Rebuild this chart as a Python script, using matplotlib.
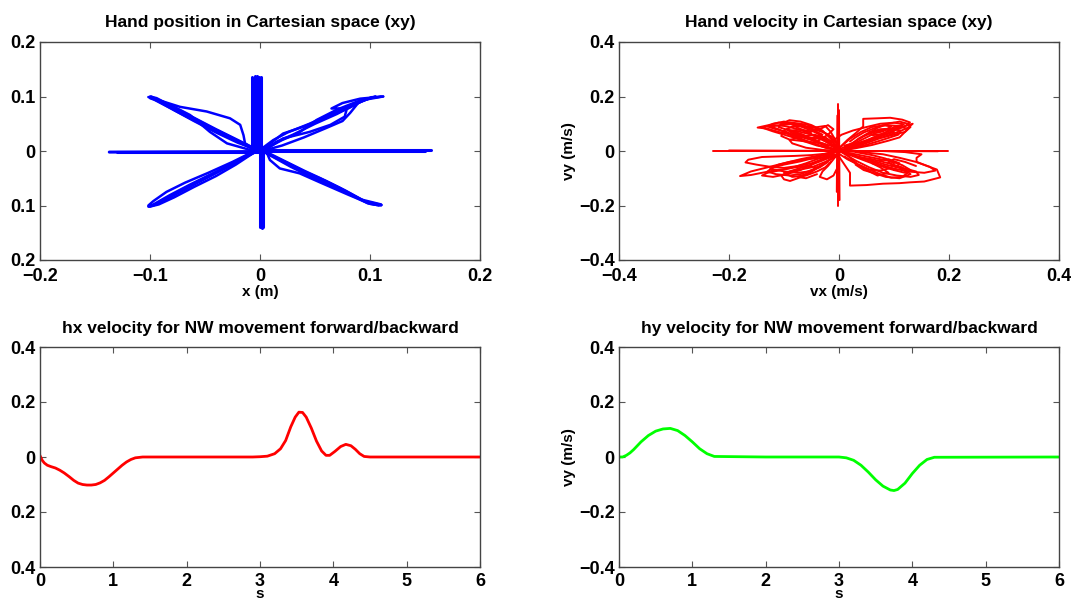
import matplotlib
matplotlib.use("Agg")
import matplotlib.pyplot as plt

plt.rcParams["font.family"] = ["Liberation Sans", "DejaVu Sans"]
plt.rcParams["font.weight"] = "bold"

# --- hand position paths (x, y) in m, one list per reach direction ---
pos_north = [
    [(-0.007, 0.0), (-0.007, 0.136)],
    [(-0.005, 0.0), (-0.005, 0.137)],
    [(-0.003, 0.0), (-0.003, 0.137)],
    [(-0.001, 0.0), (-0.001, 0.136)],
    [(0.001, 0.0), (0.001, 0.135)],
]
pos_south = [
    [(0.0, 0.0), (0.0, -0.139)],
    [(0.002, 0.0), (0.002, -0.141)],
    [(0.003, 0.0), (0.003, -0.140)],
]
pos_east = [
    [(0.0, 0.001), (0.155, 0.001)],
    [(0.0, 0.0), (0.150, 0.0)],
]
pos_west = [
    [(0.0, -0.001), (-0.137, -0.002)],
    [(0.0, -0.002), (-0.130, -0.002)],
]
pos_nw = [
    [(-0.003, 0.0), (-0.02, 0.017), (-0.04, 0.037), (-0.06, 0.058), (-0.08, 0.079), (-0.095, 0.095), (-0.1015, 0.099)],
    [(-0.002, 0.002), (-0.02, 0.02), (-0.04, 0.04), (-0.06, 0.061), (-0.08, 0.082), (-0.094, 0.097), (-0.1, 0.1)],
    [(-0.001, 0.001), (-0.02, 0.015), (-0.04, 0.034), (-0.06, 0.055), (-0.08, 0.077), (-0.096, 0.094), (-0.1, 0.097)],
    [(-0.004, 0.002), (-0.022, 0.021), (-0.042, 0.041), (-0.062, 0.062), (-0.082, 0.083), (-0.097, 0.098), (-0.099, 0.1)],
    [(0.0, 0.0), (-0.018, 0.016), (-0.038, 0.035), (-0.058, 0.054), (-0.078, 0.075), (-0.093, 0.092), (-0.1, 0.098)],
    [(-0.003, 0.0), (-0.0136, 0.014), (-0.015, 0.029), (-0.018, 0.048), (-0.0273, 0.06), (-0.0485, 0.0725),
     (-0.0727, 0.081), (-0.09, 0.092), (-0.1, 0.099)],
    [(-0.003, 0.0), (-0.009, 0.002), (-0.03, 0.014), (-0.0455, 0.035), (-0.0636, 0.066), (-0.08, 0.083), (-0.095, 0.096)],
]
pos_ne = [
    [(0.002, 0.0), (0.01, 0.015), (0.021, 0.032), (0.04, 0.045), (0.06, 0.062), (0.08, 0.078), (0.095, 0.094), (0.112, 0.1)],
    [(0.0, 0.002), (0.012, 0.02), (0.025, 0.034), (0.045, 0.05), (0.065, 0.068), (0.085, 0.085), (0.1, 0.097), (0.11, 0.1)],
    [(0.003, 0.001), (0.015, 0.017), (0.03, 0.03), (0.05, 0.05), (0.07, 0.068), (0.088, 0.087), (0.102, 0.099)],
    [(0.001, 0.0), (0.02, 0.02), (0.035, 0.033), (0.0515, 0.057), (0.07, 0.076), (0.09, 0.092), (0.105, 0.1)],
    [(0.003, 0.0), (0.021, 0.023), (0.045, 0.035), (0.064, 0.048), (0.077, 0.063), (0.079, 0.078),
     (0.065, 0.078), (0.075, 0.088), (0.091, 0.096), (0.112, 0.1)],
    [(0.002, 0.0), (0.02, 0.01), (0.04, 0.025), (0.06, 0.042), (0.075, 0.055), (0.082, 0.07), (0.09, 0.09), (0.105, 0.1)],
]
pos_se = [
    [(0.006, -0.004), (0.027, -0.026), (0.045, -0.044), (0.0576, -0.056), (0.075, -0.072), (0.095, -0.092), (0.1106, -0.099)],
    [(0.004, -0.002), (0.025, -0.022), (0.043, -0.04), (0.06, -0.055), (0.078, -0.073), (0.097, -0.094), (0.108, -0.1)],
    [(0.002, 0.0), (0.028, -0.029), (0.047, -0.048), (0.062, -0.061), (0.08, -0.078), (0.098, -0.096), (0.106, -0.099)],
    [(0.005, -0.001), (0.024, -0.02), (0.04, -0.036), (0.055, -0.05), (0.073, -0.068), (0.092, -0.089), (0.11, -0.098)],
    [(0.006, -0.002), (0.009, -0.0165), (0.018, -0.032), (0.036, -0.041), (0.055, -0.058), (0.08, -0.08), (0.1, -0.097), (0.11, -0.1)],
]
pos_sw = [
    [(-0.006, -0.001), (-0.025, -0.024), (-0.045, -0.045), (-0.0636, -0.0655), (-0.08, -0.083), (-0.095, -0.098), (-0.1015, -0.102)],
    [(-0.004, -0.002), (-0.024, -0.022), (-0.044, -0.042), (-0.064, -0.062), (-0.082, -0.081), (-0.096, -0.097), (-0.1, -0.101)],
    [(-0.003, 0.0), (-0.026, -0.026), (-0.046, -0.047), (-0.066, -0.067), (-0.083, -0.085), (-0.097, -0.1), (-0.101, -0.102)],
    [(-0.005, 0.0), (-0.025, -0.02), (-0.047, -0.04), (-0.068, -0.058), (-0.085, -0.075), (-0.097, -0.092), (-0.1015, -0.1)],
    [(-0.004, -0.001), (-0.022, -0.025), (-0.04, -0.046), (-0.06, -0.066), (-0.078, -0.085), (-0.092, -0.098), (-0.1, -0.102)],
]

# --- hand velocity paths (vx, vy) in m/s ---
vel_axes = [
    [(-0.229, 0.0), (0.198, 0.0)],
    [(-0.2, 0.002), (0.18, -0.001)],
    [(-0.002, -0.2), (-0.002, 0.171)],
    [(0.001, -0.18), (0.0, 0.15)],
    [(-0.004, -0.15), (-0.003, 0.13)],
]
vel_upper_left = [
    [(0, 0.01), (-0.02, 0.035), (-0.035, 0.06), (-0.05, 0.075), (-0.07, 0.09), (-0.09, 0.1), (-0.11, 0.104),
     (-0.13, 0.094), (-0.148, 0.086), (-0.13, 0.082), (-0.11, 0.07), (-0.08, 0.058), (-0.05, 0.04), (-0.02, 0.015), (0, 0)],
    [(0, 0.005), (-0.015, 0.045), (-0.03, 0.075), (-0.05, 0.095), (-0.07, 0.108), (-0.09, 0.113), (-0.105, 0.1),
     (-0.11, 0.088), (-0.09, 0.075), (-0.07, 0.07), (-0.05, 0.06), (-0.035, 0.05), (-0.02, 0.03), (0, 0)],
    [(0, 0), (-0.025, 0.012), (-0.05, 0.03), (-0.075, 0.045), (-0.1, 0.06), (-0.12, 0.072), (-0.14, 0.086),
     (-0.12, 0.095), (-0.1, 0.092), (-0.08, 0.083), (-0.06, 0.07), (-0.04, 0.05), (-0.02, 0.03), (0, 0.01)],
    [(0, 0.01), (-0.03, 0.028), (-0.06, 0.035), (-0.09, 0.042), (-0.105, 0.055), (-0.1, 0.075), (-0.085, 0.09),
     (-0.065, 0.092), (-0.045, 0.086), (-0.025, 0.092), (-0.015, 0.07), (-0.008, 0.045), (0, 0)],
    [(0, 0), (-0.03, 0.004), (-0.06, 0.012), (-0.085, 0.028), (-0.09, 0.04), (-0.07, 0.052), (-0.045, 0.06),
     (-0.025, 0.05), (-0.01, 0.03), (0, 0)],
    [(0, 0.02), (-0.01, 0.05), (-0.03, 0.07), (-0.055, 0.085), (-0.08, 0.1), (-0.1, 0.108), (-0.12, 0.1),
     (-0.13, 0.09), (-0.115, 0.08), (-0.095, 0.07), (-0.075, 0.05), (-0.05, 0.03), (-0.02, 0.01)],
    [(0, 0.005), (-0.04, 0.02), (-0.07, 0.04), (-0.095, 0.065), (-0.11, 0.08), (-0.125, 0.09), (-0.105, 0.095),
     (-0.08, 0.1), (-0.06, 0.098), (-0.04, 0.082), (-0.02, 0.06), (-0.005, 0.03)],
    [(-0.02, 0.02), (-0.045, 0.04), (-0.065, 0.06), (-0.08, 0.07), (-0.095, 0.08), (-0.085, 0.065), (-0.06, 0.05),
     (-0.04, 0.045), (-0.03, 0.06), (-0.05, 0.08), (-0.07, 0.1), (-0.09, 0.105), (-0.075, 0.085), (-0.05, 0.065)],
    [(-0.01, 0.03), (-0.03, 0.045), (-0.055, 0.05), (-0.075, 0.062), (-0.09, 0.075), (-0.07, 0.078), (-0.05, 0.072),
     (-0.035, 0.08), (-0.02, 0.095), (-0.01, 0.08), (-0.02, 0.06), (-0.04, 0.035), (-0.025, 0.02)],
]
vel_upper_right = [
    [(0, 0), (0.02, 0.015), (0.04, 0.03), (0.06, 0.048), (0.08, 0.065), (0.1, 0.08), (0.12, 0.092), (0.134, 0.1),
     (0.125, 0.085), (0.11, 0.072), (0.09, 0.058), (0.065, 0.04), (0.04, 0.022), (0.015, 0.006), (0, 0)],
    [(0, 0.01), (0.015, 0.04), (0.03, 0.065), (0.044, 0.09), (0.044, 0.118), (0.07, 0.12), (0.093, 0.122),
     (0.115, 0.115), (0.129, 0.105), (0.12, 0.09), (0.1, 0.075), (0.075, 0.055), (0.05, 0.035), (0.02, 0.01)],
    [(0, 0), (0.03, 0.01), (0.06, 0.022), (0.09, 0.038), (0.11, 0.05), (0.117, 0.064), (0.125, 0.08),
     (0.11, 0.092), (0.085, 0.095), (0.06, 0.088), (0.04, 0.07), (0.02, 0.045), (0, 0.01)],
    [(0.01, 0), (0.02, 0.02), (0.035, 0.045), (0.055, 0.068), (0.075, 0.08), (0.095, 0.082), (0.112, 0.075),
     (0.108, 0.06), (0.09, 0.048), (0.07, 0.035), (0.045, 0.02), (0.02, 0.008)],
    [(0, 0.02), (-0.01, 0.04), (0.005, 0.06), (0.025, 0.075), (0.05, 0.088), (0.075, 0.1), (0.1, 0.104),
     (0.118, 0.098), (0.105, 0.085), (0.085, 0.078), (0.065, 0.07), (0.045, 0.055)],
    [(0, 0.005), (0.025, 0.03), (0.05, 0.06), (0.07, 0.085), (0.09, 0.1), (0.11, 0.108), (0.125, 0.1),
     (0.13, 0.088), (0.12, 0.07), (0.1, 0.06), (0.08, 0.05), (0.06, 0.045), (0.035, 0.03), (0.01, 0.01)],
    [(0.03, 0.02), (0.05, 0.035), (0.07, 0.05), (0.085, 0.06), (0.1, 0.07), (0.09, 0.08), (0.07, 0.075),
     (0.055, 0.07), (0.06, 0.058), (0.08, 0.062), (0.1, 0.088), (0.115, 0.095)],
    [(0.01, 0.02), (0.03, 0.03), (0.05, 0.05), (0.065, 0.065), (0.08, 0.072), (0.095, 0.09), (0.08, 0.095),
     (0.06, 0.08), (0.045, 0.068), (0.03, 0.05), (0.02, 0.035)],
]
vel_lower_left = [
    [(0, 0), (-0.02, -0.015), (-0.04, -0.03), (-0.06, -0.045), (-0.08, -0.058), (-0.1, -0.067), (-0.12, -0.072),
     (-0.14, -0.08), (-0.16, -0.088), (-0.18, -0.092), (-0.16, -0.075), (-0.13, -0.06), (-0.1, -0.045),
     (-0.07, -0.03), (-0.04, -0.018), (-0.015, -0.005), (0, 0)],
    [(0, -0.01), (-0.015, -0.03), (-0.03, -0.05), (-0.045, -0.07), (-0.06, -0.088), (-0.075, -0.1),
     (-0.089, -0.11), (-0.1, -0.104), (-0.105, -0.09), (-0.09, -0.075), (-0.07, -0.062), (-0.05, -0.05),
     (-0.03, -0.035), (-0.012, -0.02), (0, -0.01)],
    [(0, 0), (-0.025, -0.01), (-0.05, -0.015), (-0.08, -0.018), (-0.11, -0.02), (-0.14, -0.022), (-0.165, -0.032),
     (-0.17, -0.042), (-0.15, -0.05), (-0.125, -0.058), (-0.1, -0.062), (-0.075, -0.055), (-0.05, -0.045),
     (-0.03, -0.03), (-0.01, -0.015)],
    [(0, -0.005), (-0.01, -0.03), (-0.02, -0.055), (-0.03, -0.075), (-0.035, -0.095), (-0.022, -0.104),
     (-0.01, -0.09), (-0.005, -0.07), (0, -0.05)],
    [(0, 0), (-0.035, -0.02), (-0.07, -0.038), (-0.1, -0.05), (-0.12, -0.06), (-0.13, -0.075), (-0.115, -0.085),
     (-0.09, -0.09), (-0.07, -0.085), (-0.05, -0.07), (-0.03, -0.05), (-0.015, -0.03)],
    [(-0.01, -0.01), (-0.04, -0.04), (-0.07, -0.07), (-0.095, -0.085), (-0.12, -0.095), (-0.14, -0.09),
     (-0.13, -0.08), (-0.105, -0.07), (-0.08, -0.06), (-0.06, -0.055), (-0.04, -0.06), (-0.055, -0.08),
     (-0.075, -0.095), (-0.06, -0.1), (-0.04, -0.085)],
    [(0, -0.01), (-0.03, -0.025), (-0.06, -0.03), (-0.09, -0.04), (-0.11, -0.05), (-0.125, -0.065),
     (-0.1, -0.075), (-0.075, -0.08), (-0.055, -0.075), (-0.035, -0.06), (-0.02, -0.04)],
    [(-0.005, -0.02), (-0.025, -0.04), (-0.05, -0.06), (-0.075, -0.07), (-0.1, -0.08), (-0.085, -0.095),
     (-0.06, -0.09), (-0.04, -0.075), (-0.025, -0.06), (-0.015, -0.04)],
]
vel_lower_right = [
    [(0, 0), (0.02, -0.015), (0.04, -0.03), (0.06, -0.045), (0.08, -0.058), (0.1, -0.07), (0.12, -0.08),
     (0.13, -0.07), (0.115, -0.052), (0.095, -0.038), (0.07, -0.028), (0.045, -0.018), (0.02, -0.008), (0, 0)],
    [(0, -0.01), (0.015, -0.03), (0.035, -0.05), (0.055, -0.068), (0.075, -0.085), (0.095, -0.098),
     (0.115, -0.095), (0.125, -0.08), (0.11, -0.062), (0.085, -0.05), (0.06, -0.035), (0.03, -0.018), (0, 0)],
    [(0, -0.02), (0.01, -0.05), (0.02, -0.08), (0.02, -0.11), (0.02, -0.127), (0.05, -0.125), (0.08, -0.12),
     (0.11, -0.118), (0.129, -0.115), (0.155, -0.112), (0.184, -0.097), (0.178, -0.068), (0.16, -0.055),
     (0.141, -0.04), (0.141, -0.025), (0.15, -0.012), (0.12, -0.004), (0.08, 0.0)],
    [(0, 0), (0.04, -0.004), (0.08, -0.012), (0.11, -0.025), (0.14, -0.04), (0.165, -0.058), (0.175, -0.072),
     (0.155, -0.08), (0.13, -0.076), (0.1, -0.065), (0.075, -0.05), (0.05, -0.032), (0.025, -0.015)],
    [(0.01, 0), (0.02, -0.025), (0.035, -0.05), (0.055, -0.068), (0.075, -0.072), (0.095, -0.062),
     (0.1, -0.045), (0.085, -0.028), (0.06, -0.015), (0.03, -0.004)],
    [(0.005, -0.005), (0.03, -0.035), (0.055, -0.06), (0.08, -0.08), (0.105, -0.09), (0.13, -0.095),
     (0.145, -0.088), (0.14, -0.075), (0.12, -0.065), (0.1, -0.055), (0.09, -0.04), (0.1, -0.03),
     (0.12, -0.04), (0.14, -0.055)],
    [(0.03, -0.02), (0.06, -0.03), (0.09, -0.045), (0.115, -0.06), (0.13, -0.085), (0.11, -0.1),
     (0.085, -0.095), (0.065, -0.082), (0.045, -0.07), (0.03, -0.05)],
    [(0.01, -0.02), (0.03, -0.045), (0.05, -0.07), (0.07, -0.09), (0.09, -0.08), (0.075, -0.06), (0.06, -0.045),
     (0.07, -0.035), (0.09, -0.03), (0.11, -0.045), (0.1, -0.07)],
]

# --- NW movement velocity time courses ---
hx_t = [0, 0.03, 0.06, 0.1, 0.15, 0.21, 0.27, 0.33, 0.4, 0.46, 0.52, 0.58, 0.64, 0.7, 0.76, 0.82, 0.88,
        0.94, 1.0, 1.06, 1.12, 1.18, 1.24, 1.3, 1.4, 2.0, 2.9, 3.0, 3.1, 3.2, 3.28, 3.35, 3.42, 3.48,
        3.53, 3.58, 3.63, 3.7, 3.77, 3.84, 3.9, 3.95, 4.02, 4.1, 4.17, 4.24, 4.3, 4.36, 4.42, 4.5, 6.0]
hx_v = [0.005, -0.012, -0.022, -0.03, -0.035, -0.04, -0.048, -0.058, -0.072, -0.085, -0.095, -0.1, -0.102,
        -0.102, -0.1, -0.094, -0.085, -0.072, -0.058, -0.044, -0.03, -0.018, -0.009, -0.003, 0.0, 0.0, 0.0,
        0.001, 0.003, 0.012, 0.03, 0.06, 0.11, 0.145, 0.163, 0.162, 0.145, 0.105, 0.058, 0.022, 0.006,
        0.006, 0.02, 0.038, 0.046, 0.041, 0.028, 0.012, 0.002, 0.0, 0.0]
hy_t = [0, 0.05, 0.1, 0.15, 0.2, 0.3, 0.4, 0.5, 0.6, 0.7, 0.8, 0.9, 1.0, 1.1, 1.2, 1.3, 2.0, 3.0,
        3.1, 3.2, 3.3, 3.4, 3.5, 3.6, 3.7, 3.75, 3.8, 3.9, 4.0, 4.1, 4.2, 4.3, 6.0]
hy_v = [0.0, 0.0, 0.006, 0.015, 0.027, 0.055, 0.078, 0.094, 0.102, 0.104, 0.096, 0.078, 0.055, 0.03,
        0.012, 0.002, 0.0, 0.0, -0.003, -0.012, -0.03, -0.055, -0.083, -0.106, -0.12, -0.122, -0.118,
        -0.095, -0.06, -0.03, -0.009, -0.001, 0.0]

# tick labels as printed on the figure
pos_xticks = [-0.2, -0.1, 0, 0.1, 0.2]
pos_xlabels = ["\u22120.2", "\u22120.1", "0", "0.1", "0.2"]
pos_yticks = [-0.2, -0.1, 0, 0.1, 0.2]
pos_ylabels = ["0.2", "0.1", "0", "0.1", "0.2"]
vel_ticks = [-0.4, -0.2, 0, 0.2, 0.4]
vel_labels = ["\u22120.4", "\u22120.2", "0", "0.2", "0.4"]
hx_ylabels = ["0.4", "0.2", "0", "0.2", "0.4"]
time_ticks = [0, 1, 2, 3, 4, 5, 6]


def style_axes(ax, xpad=6):
    ax.tick_params(direction="in", top=True, right=True, length=4, width=0.8,
                   labelsize=13, color="#555555")
    ax.tick_params(axis="x", pad=xpad)
    ax.tick_params(axis="y", pad=3)
    for lbl in ax.get_xticklabels() + ax.get_yticklabels():
        lbl.set_fontweight("bold")
    for sp in ax.spines.values():
        sp.set_color("#444444")
        sp.set_linewidth(1.0)


def draw_paths(ax, paths, color, lw):
    for p in paths:
        xs = [pt[0] for pt in p]
        ys = [pt[1] for pt in p]
        ax.plot(xs, ys, color=color, linewidth=lw, solid_joinstyle="round", solid_capstyle="round")


fig = plt.figure(figsize=(10.71, 6.03), dpi=100)
W, H = 1071.0, 603.0
ax1 = fig.add_axes([40 / W, 1 - 260 / H, 440 / W, 218 / H])
ax2 = fig.add_axes([619 / W, 1 - 260 / H, 440 / W, 218 / H])
ax3 = fig.add_axes([40 / W, 1 - 567 / H, 440 / W, 220 / H])
ax4 = fig.add_axes([619 / W, 1 - 567 / H, 440 / W, 220 / H])

title_kw = dict(fontsize=12.5, fontweight="bold")
label_kw = dict(fontsize=11, fontweight="bold")

# hand position
for group in [pos_north, pos_south, pos_east, pos_west]:
    draw_paths(ax1, group, (0, 0, 1), 2.2)
for group in [pos_nw, pos_ne, pos_se, pos_sw]:
    draw_paths(ax1, group, (0, 0, 1), 1.8)
ax1.set_xlim(-0.2, 0.2)
ax1.set_ylim(-0.2, 0.2)
ax1.set_xticks(pos_xticks)
ax1.set_xticklabels(pos_xlabels)
ax1.set_yticks(pos_yticks)
ax1.set_yticklabels(pos_ylabels)
ax1.set_title("Hand position in Cartesian space (xy)", pad=11, **title_kw)
ax1.set_xlabel("x (m)", labelpad=0, **label_kw)

# hand velocity
for group in [vel_axes, vel_upper_left, vel_upper_right, vel_lower_left, vel_lower_right]:
    draw_paths(ax2, group, (1, 0, 0), 1.4)
ax2.set_xlim(-0.4, 0.4)
ax2.set_ylim(-0.4, 0.4)
ax2.set_xticks(vel_ticks)
ax2.set_xticklabels(vel_labels)
ax2.set_yticks(vel_ticks)
ax2.set_yticklabels(vel_labels)
ax2.set_title("Hand velocity in Cartesian space (xy)", pad=11, **title_kw)
ax2.set_xlabel("vx (m/s)", labelpad=0, **label_kw)
ax2.set_ylabel("vy (m/s)", labelpad=2, **label_kw)

# hx velocity
ax3.plot(hx_t, hx_v, color=(1, 0, 0), linewidth=2)
ax3.set_xlim(0, 6)
ax3.set_ylim(-0.4, 0.4)
ax3.set_xticks(time_ticks)
ax3.set_yticks(vel_ticks)
ax3.set_yticklabels(hx_ylabels)
ax3.set_title("hx velocity for NW movement forward/backward", pad=10, **title_kw)
ax3.set_xlabel("s", labelpad=-1.5, **label_kw)

# hy velocity
ax4.plot(hy_t, hy_v, color=(0, 1, 0), linewidth=2)
ax4.set_xlim(0, 6)
ax4.set_ylim(-0.4, 0.4)
ax4.set_xticks(time_ticks)
ax4.set_yticks(vel_ticks)
ax4.set_yticklabels(vel_labels)
ax4.set_title("hy velocity for NW movement forward/backward", pad=10, **title_kw)
ax4.set_xlabel("s", labelpad=-1.5, **label_kw)
ax4.set_ylabel("vy (m/s)", labelpad=2, **label_kw)

style_axes(ax1)
style_axes(ax2)
style_axes(ax3, xpad=4)
style_axes(ax4, xpad=4)

fig.savefig("out.png", dpi=100)
